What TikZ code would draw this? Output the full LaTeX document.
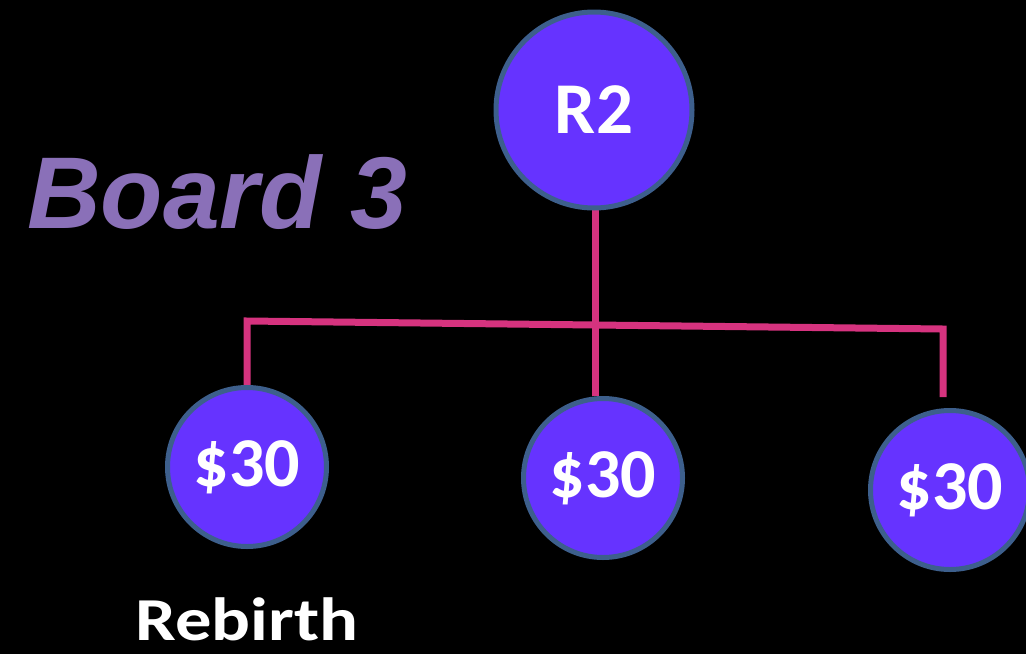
\documentclass[tikz,border=0pt]{standalone}
\usepackage{fontspec}
\setmainfont{Carlito}
\newfontfamily\boardfont{Liberation Sans}
\definecolor{nodefill}{HTML}{6633FF}
\definecolor{nodeedge}{HTML}{3D5F8C}
\definecolor{linkpink}{HTML}{D6337F}
\definecolor{boardpurple}{HTML}{8A70B8}
\begin{document}
\begin{tikzpicture}[x=1pt,y=-1pt,
  bignode/.style={circle,fill=nodefill,draw=nodeedge,line width=5pt,minimum size=196pt,inner sep=0pt,text=white,font=\bfseries\fontsize{73}{80}\selectfont},
  coin/.style={circle,fill=nodefill,draw=nodeedge,line width=5pt,minimum size=159pt,inner sep=0pt,text=white,font=\bfseries\fontsize{70}{76}\selectfont},
  link/.style={draw=linkpink,line width=7pt,line join=miter,line cap=butt}]
\fill[black] (0,0) rectangle (1026,654);
\useasboundingbox (0,0) rectangle (1026,654);
% connectors (drawn first, under the circles)
\coordinate (cL) at (247,321);
\coordinate (cR) at (943,329);
\coordinate (e1) at (247,386);
\coordinate (e2) at (595,396);
\coordinate (e3) at (943,397);
\coordinate (top) at (595,205);
\draw[link] (e1) -- (cL) -- (cR) -- (e3);
\draw[link] (top) -- (e2);
% nodes
\node[bignode] (R2) at (594,110) {R2};
\node[coin] (c1) at (247,467) {\$30};
\node[coin] (c2) at (603,478) {\$30};
\node[coin] (c3) at (950,490) {\$30};
\node[anchor=base,text=boardpurple,font=\boardfont\bfseries\itshape\fontsize{102}{110}\selectfont] (board) at (217,228) {Board 3};
\node[anchor=base,text=white,font=\bfseries\fontsize{61}{66}\selectfont] (rebirth) at (247,640) {\scalebox{1.19}[1]{Rebirth}};
\end{tikzpicture}
\end{document}
